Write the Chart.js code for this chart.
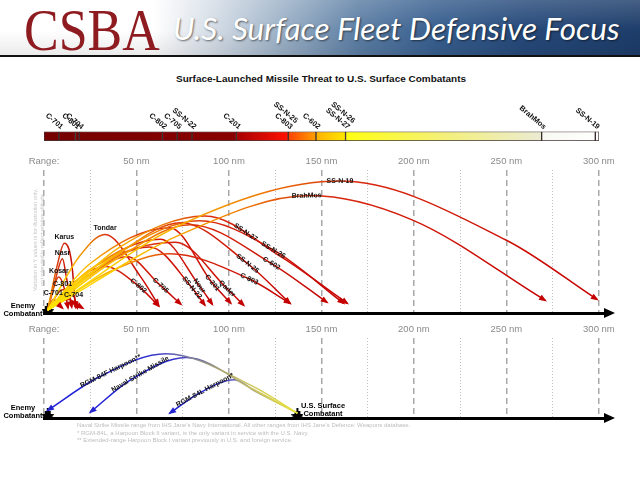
<!DOCTYPE html>
<html lang="en">
<head>
<meta charset="UTF-8">
<title>U.S. Surface Fleet Defensive Focus</title>
<script src="https://cdn.jsdelivr.net/npm/chart.js"></script>
<style>
  body { margin: 0; background: #fff; font-family: 'Liberation Sans', Arial, sans-serif; }
  #page { position: relative; width: 640px; height: 480px; overflow: hidden; }

  /* Header band */
  #hdr {
    position: absolute; left: 0; top: 0; width: 640px; height: 55px; overflow: hidden;
    background:
      linear-gradient(180deg, rgba(255,255,255,0.18) 0%, rgba(255,255,255,0) 55%, rgba(0,0,0,0.08) 100%),
      linear-gradient(90deg, #ffffff 0%, #ffffff 24%, #d6dee7 33%, #97adc4 45%, #5c7ea4 56%, #385f8f 68%, #26497a 82%, #1d3d6a 100%);
    border-bottom: 2px solid #111;
  }
  #logo {
    position: absolute; left: 24px; top: 0; font-family: 'Liberation Serif', serif;
    font-size: 60px; line-height: 60px; color: #8e1b1f; white-space: nowrap; transform-origin: left top;
  }
  #ttl {
    position: absolute; left: 173px; top: 13px; font-family: Lato, 'Open Sans', sans-serif; font-style: italic;
    font-size: 31px; line-height: 31px; color: #fff; white-space: nowrap; transform-origin: left top;
    text-shadow: 1px 1px 2px rgba(0,0,0,0.55);
  }
  #sub {
    position: absolute; left: 176px; top: 74px; font-size: 9px; line-height: 10px; font-weight: bold;
    white-space: nowrap; transform-origin: left top; color: #111;
  }
  canvas { position: absolute; left: 0; }
  .lbl { position: absolute; font-weight: bold; font-size: 7.5px; line-height: 7.5px; color: #000; text-align: center; white-space: nowrap; }
  #notes { position: absolute; left: 77px; top: 422px; font-size: 6px; line-height: 7.5px; color: #bdbdbd; white-space: nowrap; }
</style>
</head>
<body>
<div id="page">
  <div id="hdr">
    <div id="logo">CSBA</div>
    <div id="ttl">U.S. Surface Fleet Defensive Focus</div>
  </div>
  <div id="sub">Surface-Launched Missile Threat to U.S. Surface Combatants</div>

  <canvas id="bar" width="640" height="50" style="top:95px"></canvas>
  <canvas id="up" width="640" height="170" style="top:150px"></canvas>
  <canvas id="low" width="640" height="108" style="top:318px"></canvas>

  <div class="lbl" style="left:0;top:302px;width:46px">Enemy<br>Combatant</div>
  <div class="lbl" style="left:0;top:404px;width:46px">Enemy<br>Combatant</div>
  <div class="lbl" style="left:297px;top:402px;width:52px">U.S. Surface<br>Combatant</div>

  <div id="notes">
    Naval Strike Missile range from IHS Jane's Navy International. All other ranges from IHS Jane's Defence: Weapons database.<br>
    * RGM-84L, a Harpoon Block II variant, is the only variant in service with the U.S. Navy.<br>
    ** Extended-range Harpoon Block I variant previously in U.S. and foreign service.
  </div>
</div>

<script>
    // ---- colour bar: missile ranges (nm) ----
    const barMissiles = ['C-701', 'C-801', 'C-704', 'C-802', 'C-705', 'SS-N-22', 'C-201',
        'SS-N-25\nC-803', 'C-602', 'SS-N-26\nSS-N-27', 'BrahMos', 'SS-N-19'];
    const barRangeNm = [8, 17, 19, 64, 72, 80, 104, 132, 147, 163, 269, 298];
    const barMaxNm = 300;

    // ---- range axis ----
    const rangeTicks = [0, 25, 50, 75, 100, 125, 150, 175, 200, 225, 250, 275, 300];
    const axisMaxNm = 306;

    // ---- threat missiles: flight path points (range nm, illustrative height) ----
    const threatNames = ['SS-N-19', 'BrahMos', 'SS-N-27', 'SS-N-26', 'C-602', 'SS-N-25', 'C-803', 'Qader',
        'C-201', 'Nour', 'SS-N-22', 'C-705', 'C-802', 'Tondar', 'Karus', 'Nasr', 'Kosar', 'C-801', 'C-701', 'C-704'];
    const threatNm = [
        [2, 74, 160, 250, 299],
        [2, 74, 144, 199, 271],
        [2, 41, 87, 128, 164],
        [2, 41, 84, 124, 162],
        [2, 41, 79, 123, 153],
        [2, 38, 74, 110, 133],
        [2, 36, 68, 111, 133],
        [2, 25, 71, 99, 108],
        [2, 25, 68, 91, 101],
        [2, 25, 63, 84, 91],
        [2, 25, 57, 80, 87],
        [2, 22, 45, 62, 74],
        [2, 17, 33, 51, 62],
        [2, 19, 33, 52, 62],
        [2, 7, 11, 15, 17],
        [2, 6, 10, 12, 15],
        [2, 8, 11, 13],
        [2, 10, 16, 18],
        [2, 5, 10],
        [2, 13, 21]
    ];
    const threatHeight = [
        [3, 91, 136, 75, 14],
        [3, 81, 121, 96, 13],
        [3, 68, 100, 58, 10],
        [3, 63, 95, 65, 10],
        [3, 58, 91, 51, 11],
        [3, 58, 93, 51, 10],
        [3, 43, 61, 35, 10],
        [3, 45, 73, 25, 8],
        [3, 51, 88, 31, 10],
        [3, 45, 76, 28, 9],
        [3, 41, 68, 26, 8],
        [3, 35, 58, 30, 9],
        [3, 33, 48, 28, 7],
        [3, 58, 81, 38, 8],
        [3, 48, 72, 51, 6],
        [3, 33, 56, 38, 6],
        [3, 37, 25, 5],
        [3, 24, 18, 5],
        [3, 14, 5],
        [3, 14, 5]
    ];
    const threatLabelNm = [160, 142, 109, 124, 123, 110, 111, 99, 91, 84, 80, 63, 51, 33, 11, 10, 8, 10, 5, 16];

    // ---- U.S. defensive missiles, flying from the U.S. ship back toward the enemy ----
    const defenseNames = ['RGM-84F Harpoon**', 'Naval Strike Missile', 'RGM-84L Harpoon*'];
    const defenseNm = [
        [137, 113, 66, 30, 2],
        [137, 113, 77, 47, 25],
        [137, 114, 103, 84, 68]
    ];
    const defenseHeight = [
        [5, 33, 67, 43, 8],
        [5, 30, 63, 40, 6],
        [5, 28, 40, 26, 5]
    ];
    const defenseLabelNm = [36, 52, 87];

    const enemyNm = 2;
    const usShipNm = 137;

    // labels that sit above their arc instead of on it
    const liftedLabels = ['Tondar', 'Karus', 'Nasr', 'Kosar', 'C-801', 'C-701', 'C-704'];

    Chart.defaults.font.family = "'Liberation Sans', Arial, sans-serif";
    Chart.defaults.animation = false;

    // colour stops along a flight path
    const hotStops = [[0, '#ffe600'], [0.18, '#fcc200'], [0.38, '#ef7d00'], [0.55, '#d92a0e'], [1, '#c40000']];
    const shortStops = [[0, '#f0a000'], [0.35, '#d84010'], [1, '#c00000']];
    const blueStops = [[0, '#e9e23a'], [0.22, '#c8c060'], [0.4, '#8e8c86'], [0.52, '#5050c0'], [0.62, '#2a2ad4'], [1, '#1e1ed8']];

    function arcGradient(chart, nmStart, nmEnd, stops) {
        const {ctx, chartArea, scales} = chart;
        if (!chartArea) return stops[stops.length - 1][1];
        const x0 = scales.x.getPixelForValue(nmStart), x1 = scales.x.getPixelForValue(nmEnd);
        const g = ctx.createLinearGradient(x0, 0, x1, 0);
        stops.forEach(([o, c]) => g.addColorStop(o, c));
        return g;
    }

    function shipIcon() {
        const c = document.createElement('canvas');
        c.width = 12; c.height = 22;
        const g = c.getContext('2d');
        g.fillStyle = '#000';
        g.beginPath(); g.moveTo(0, 7); g.lineTo(12, 7); g.lineTo(10, 11); g.lineTo(2, 11); g.closePath(); g.fill();
        g.fillRect(3, 4, 6, 3);
        g.fillRect(5, 1, 2, 3);
        return c;
    }
    const ship = shipIcon();

    // cubic bezier helper
    function bez(a, b, c, d, t) {
        const u = 1 - t;
        return u * u * u * a + 3 * u * u * t * b + 3 * u * t * t * c + t * t * t * d;
    }
    // y pixel of a drawn arc at pixel x, using the control points Chart.js computed
    function arcY(pts, px) {
        for (let k = 0; k < pts.length - 1; k++) {
            const p = pts[k], q = pts[k + 1];
            if (px < Math.min(p.x, q.x) || px > Math.max(p.x, q.x)) continue;
            const inc = q.x > p.x;
            let t0 = 0, t1 = 1;
            for (let n = 0; n < 30; n++) {
                const tm = (t0 + t1) / 2;
                const xm = bez(p.x, p.cp2x, q.cp1x, q.x, tm);
                if ((xm < px) === inc) t0 = tm; else t1 = tm;
            }
            const t = (t0 + t1) / 2;
            return bez(p.y, p.cp2y, q.cp1y, q.y, t);
        }
        return null;
    }

    // Arrowheads, arc labels and axis arrow
    const arcPlugin = {
        id: 'arcs',
        afterDatasetsDraw(chart) {
            const {ctx, chartArea, scales} = chart;
            chart.data.datasets.forEach((ds, i) => {
                if (!ds.arrow) return;
                const pts = chart.getDatasetMeta(i).data;
                const end = pts[pts.length - 1], prev = pts[pts.length - 2];
                const fx = end.cp1x !== undefined ? end.cp1x : prev.x;
                const fy = end.cp1y !== undefined ? end.cp1y : prev.y;
                const a = Math.atan2(end.y - fy, end.x - fx);
                ctx.save();
                ctx.translate(end.x, end.y);
                ctx.rotate(a);
                ctx.fillStyle = ds.arrow;
                ctx.beginPath(); ctx.moveTo(2, 0); ctx.lineTo(-6, -3); ctx.lineTo(-6, 3); ctx.closePath(); ctx.fill();
                ctx.restore();

                // label
                const px = scales.x.getPixelForValue(ds.tagNm);
                const y = arcY(pts, px);
                if (y === null) return;
                let rot = 0;
                if (!ds.tagLift) {
                    const y1 = arcY(pts, px - 3), y2 = arcY(pts, px + 3);
                    if (y1 !== null && y2 !== null) rot = Math.atan2(y2 - y1, 6);
                }
                ctx.save();
                ctx.translate(px, y - ds.tagLift);
                ctx.rotate(rot);
                ctx.font = 'bold 7px "Liberation Sans", Arial, sans-serif';
                ctx.fillStyle = '#111';
                ctx.textAlign = 'center';
                ctx.textBaseline = 'middle';
                ctx.fillText(ds.tagText, 0, 0);
                ctx.restore();
            });
            // arrow at the end of the range axis
            const {right, bottom} = chartArea;
            ctx.save();
            ctx.fillStyle = '#000';
            ctx.beginPath(); ctx.moveTo(right + 5, bottom); ctx.lineTo(right - 6, bottom - 5); ctx.lineTo(right - 6, bottom + 5); ctx.closePath(); ctx.fill();
            ctx.restore();
        }
    };

    const noteplugin = {
        id: 'note',
        afterDraw(chart) {
            const ctx = chart.ctx;
            ctx.save();
            ctx.fillStyle = '#c6c6c6';
            ctx.font = '5.5px "Liberation Sans", Arial, sans-serif';
            ctx.textAlign = 'center';
            ctx.translate(37, 90);
            ctx.rotate(-Math.PI / 2);
            ctx.fillText('Variation in Y values is for illustration only,', 0, 0);
            ctx.fillText('not intended to reflect relative altitude', 0, 6.5);
            ctx.restore();
        }
    };

    function rangeScales(ymax) {
        const major = c => c.tick && c.tick.value % 50 === 0;
        return {
            x: {
                type: 'linear', position: 'top', min: 0, max: axisMaxNm,
                afterBuildTicks: s => { s.ticks = rangeTicks.map(v => ({value: v})); },
                ticks: {
                    autoSkip: false, maxRotation: 0, padding: 3, color: '#8a8a8a', font: {size: 9.5},
                    callback: v => v === 0 ? 'Range:' : (v % 50 === 0 ? v + ' nm' : '')
                },
                grid: {
                    drawTicks: false,
                    color: c => major(c) ? '#a8a8a8' : '#c0c0c0',
                    lineWidth: c => major(c) ? 1.5 : 1
                },
                border: { display: false, dash: c => major(c) ? [6, 4] : [1, 2] }
            },
            xb: {
                type: 'linear', position: 'bottom', min: 0, max: axisMaxNm,
                ticks: { display: false },
                grid: { drawOnChartArea: false, drawTicks: false },
                border: { display: true, color: '#000', width: 3 }
            },
            y: { display: false, min: 0, max: ymax }
        };
    }

    // ---- colour bar ----
    const barEdges = [0].concat(barRangeNm, [barMaxNm]);
    function barGradient(chart) {
        const {ctx, chartArea} = chart;
        if (!chartArea) return '#800000';
        const g = ctx.createLinearGradient(chartArea.left, 0, chartArea.right, 0);
        const f = nm => nm / barMaxNm;
        g.addColorStop(0, '#740000');
        g.addColorStop(f(barRangeNm[6]), '#8a0000');
        g.addColorStop(f(barRangeNm[6]) + 0.002, '#a80000');
        g.addColorStop(f(barRangeNm[7]) - 0.002, '#ff1200');
        g.addColorStop(f(barRangeNm[7]) + 0.002, '#ff4400');
        g.addColorStop(f(barRangeNm[8]) - 0.002, '#ff9c00');
        g.addColorStop(f(barRangeNm[8]) + 0.002, '#ffb400');
        g.addColorStop(f(barRangeNm[9]) - 0.002, '#ffe400');
        g.addColorStop(f(barRangeNm[9]) + 0.002, '#ffff14');
        g.addColorStop(0.72, '#f4f07a');
        g.addColorStop(f(barRangeNm[10]) - 0.002, '#ebebd2');
        g.addColorStop(f(barRangeNm[10]) + 0.002, '#f8f8f3');
        g.addColorStop(1, '#ffffff');
        return g;
    }

    const barLabelPlugin = {
        id: 'barLabels',
        afterDraw(chart) {
            const {ctx, chartArea, scales} = chart;
            ctx.save();
            ctx.font = 'bold 7.5px "Liberation Sans", Arial, sans-serif';
            ctx.fillStyle = '#111';
            ctx.textAlign = 'right';
            ctx.textBaseline = 'alphabetic';
            barMissiles.forEach((name, i) => {
                const x = scales.x.getPixelForValue(barRangeNm[i]);
                const lines = name.split('\n');
                ctx.save();
                ctx.translate(x + 2, chartArea.top - 2);
                ctx.rotate(40 * Math.PI / 180);
                lines.forEach((ln, k) => ctx.fillText(ln, 0, -8 * (lines.length - 1 - k)));
                ctx.restore();
            });
            ctx.restore();
        }
    };

    new Chart(document.getElementById('bar'), {
        type: 'bar',
        data: {
            labels: [''],
            datasets: barEdges.slice(1).map((end, i) => ({
                data: [[barEdges[i], end]],
                backgroundColor: c => barGradient(c.chart),
                borderColor: 'rgba(35,20,20,0.85)',
                borderWidth: 1,
                borderSkipped: false,
                grouped: false,
                barPercentage: 1,
                categoryPercentage: 1
            }))
        },
        options: {
            indexAxis: 'y',
            responsive: false,
            layout: { padding: { top: 36.5, bottom: 4, left: 44, right: 41 } },
            scales: {
                x: { display: false, min: 0, max: barMaxNm },
                y: { display: false }
            },
            plugins: { legend: { display: false }, tooltip: { enabled: false } }
        },
        plugins: [barLabelPlugin]
    });

    // ---- upper chart: threat missiles ----
    const upData = threatNames.map((name, i) => {
        const xs = threatNm[i];
        const last = xs[xs.length - 1];
        return {
            label: name,
            data: xs.map((x, k) => ({x: x, y: threatHeight[i][k]})),
            borderColor: c => arcGradient(c.chart, xs[0], last, last < 25 ? shortStops : hotStops),
            borderWidth: 1.5,
            pointRadius: 0,
            cubicInterpolationMode: 'monotone',
            clip: false,
            arrow: '#c40000',
            tagText: name,
            tagNm: threatLabelNm[i],
            tagLift: liftedLabels.includes(name) ? 6 : 0
        };
    });
    upData.push({ label: 'Enemy Combatant', data: [{x: enemyNm, y: 0}], pointStyle: ship, pointRadius: 6, showLine: false, clip: false });

    new Chart(document.getElementById('up'), {
        type: 'line',
        data: { datasets: upData },
        options: {
            responsive: false,
            layout: { padding: { top: 3, bottom: 7, left: 44, right: 30 } },
            scales: rangeScales(147),
            plugins: { legend: { display: false }, tooltip: { enabled: false } }
        },
        plugins: [arcPlugin, noteplugin]
    });

    // ---- lower chart: U.S. missiles ----
    const lowData = defenseNames.map((name, i) => {
        const xs = defenseNm[i];
        return {
            label: name,
            data: xs.map((x, k) => ({x: x, y: defenseHeight[i][k]})),
            borderColor: c => arcGradient(c.chart, xs[0], xs[xs.length - 1], blueStops),
            borderWidth: 1.5,
            pointRadius: 0,
            cubicInterpolationMode: 'monotone',
            clip: false,
            arrow: '#2424d0',
            tagText: name,
            tagNm: defenseLabelNm[i],
            tagLift: 0
        };
    });
    lowData.push({ label: 'Enemy Combatant', data: [{x: enemyNm, y: 0}], pointStyle: ship, pointRadius: 6, showLine: false, clip: false });
    lowData.push({ label: 'U.S. Surface Combatant', data: [{x: usShipNm, y: 0}], pointStyle: ship, pointRadius: 6, showLine: false, clip: false });

    new Chart(document.getElementById('low'), {
        type: 'line',
        data: { datasets: lowData },
        options: {
            responsive: false,
            layout: { padding: { top: 3, bottom: 8, left: 44, right: 30 } },
            scales: rangeScales(83),
            plugins: { legend: { display: false }, tooltip: { enabled: false } }
        },
        plugins: [arcPlugin]
    });

    // squeeze header texts to the widths of the original
    function fitWidth(el, w) { el.style.transform = 'scaleX(' + (w / el.offsetWidth) + ')'; }
    fitWidth(document.getElementById('logo'), 136);
    fitWidth(document.getElementById('ttl'), 447);
    fitWidth(document.getElementById('sub'), 290);
</script>
</body>
</html>
